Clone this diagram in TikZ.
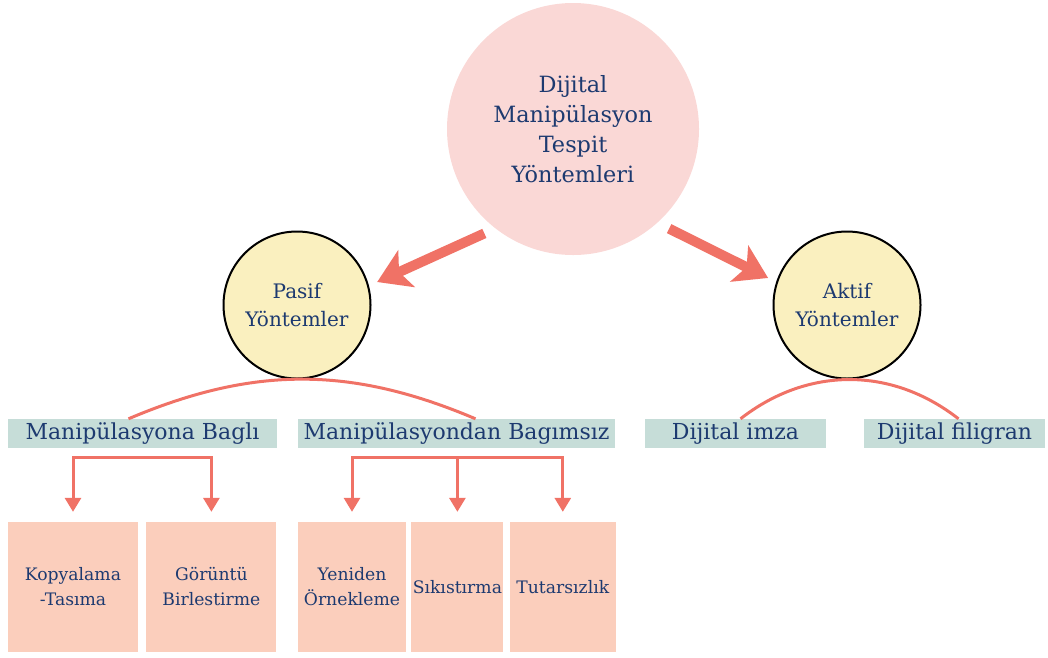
\documentclass[tikz,border=0pt]{standalone}
\usepackage{fontspec}
\setmainfont{DejaVu Serif}
\usepackage{xcolor}
\definecolor{MainPink}{HTML}{FAD8D6}
\definecolor{MethodYellow}{HTML}{FAF0BF}
\definecolor{LinkSalmon}{HTML}{F07266}
\definecolor{GroupTeal}{HTML}{C6DDD8}
\definecolor{LeafPeach}{HTML}{FBCEBC}
\definecolor{InkNavy}{HTML}{1D3A70}
\usepackage{tikz}
\usetikzlibrary{positioning,arrows.meta,calc}

\begin{document}
\begin{tikzpicture}[
        x=1pt, y=-1pt,
        node distance=8pt,
        every node/.style={text=InkNavy},
        root/.style={
            circle, fill=MainPink, minimum size=252pt, inner sep=0pt,
            align=center, font=\fontsize{22.4}{30}\selectfont
        },
        method/.style={
            circle, draw=black, line width=2pt, fill=MethodYellow,
            minimum size=147pt, inner sep=0pt,
            align=center, font=\fontsize{20}{28}\selectfont
        },
        group/.style={
            rectangle, fill=GroupTeal,
            minimum height=29pt, inner sep=0pt,
            font=\fontsize{22}{24}\selectfont
        },
        leaf/.style={
            rectangle, fill=LeafPeach,
            minimum height=130pt, inner sep=0pt,
            align=center, font=\fontsize{17.2}{25}\selectfont
        },
        bigarrow/.style={-{Stealth[length=32pt, width=40pt, inset=8pt]}, line width=10pt, draw=LinkSalmon},
        branch/.style={line width=3pt, draw=LinkSalmon},
        fork/.style={{Triangle[length=14pt, width=16pt]}-{Triangle[length=14pt, width=16pt]}, line width=3pt, draw=LinkSalmon}
    ]
        \useasboundingbox (0,0) rectangle (1048,657);

        \node[root] (main) at (573,129) {Dijital\\Manipülasyon\\Tespit\\Yöntemleri};
        \node[method] (pasif) at (297,305) {Pasif\\Yöntemler};
        \node[method] (aktif) at (847,305) {Aktif\\Yöntemler};

        \node[group, minimum width=269pt] (bagli) at (142.5,433.5) {Manipülasyona Baglı};
        \node[group, minimum width=317pt] (bagimsiz) at (456.5,433.5) {Manipülasyondan Bagımsız};
        \node[group, minimum width=181pt] (imza) at (735.5,433.5) {Dijital imza};
        \node[group, minimum width=181pt] (filigran) at (954.5,433.5) {Dijital filigran};

        \node[leaf, minimum width=130pt] (kopya) at (73,587) {Kopyalama\\-Tasıma};
        \node[leaf, minimum width=130pt, right=8pt of kopya] (goruntu) {Görüntü\\Birlestirme};
        \node[leaf, minimum width=108pt] (yeniden) at (352,587) {Yeniden\\Örnekleme};
        \node[leaf, minimum width=92pt, right=5pt of yeniden] (sikis) {Sıkıstırma};
        \node[leaf, minimum width=106pt, right=6pt of sikis] (tutar) {Tutarsızlık};

        % main split
        \draw[bigarrow, shorten <=12pt, shorten >=9pt] (main.232) -- (pasif.15);
        \draw[bigarrow, shorten <=13pt, shorten >=9pt] (main.312) -- (aktif.162);

        % arcs under the methods
        \draw[branch] ([xshift=-14pt]bagli.north) to[bend left=23] ([xshift=19pt]bagimsiz.north);
        \draw[branch] ([xshift=5pt]imza.north) to[bend left=38] ([xshift=4pt]filigran.north);

        % forks down to the leaves
        \coordinate (lfork) at (145,457);
        \coordinate (rfork) at (455,457);
        \draw[fork] ([yshift=10pt]kopya.north) |- (lfork) -| ([yshift=10pt]goruntu.north);
        \draw[fork] ([yshift=10pt]yeniden.north) |- (rfork) -| ([yshift=10pt]tutar.north);
        \draw[fork, -{Triangle[length=14pt, width=16pt]}] (sikis.north |- rfork) -- ([yshift=10pt]sikis.north);
    \end{tikzpicture}
\end{document}
